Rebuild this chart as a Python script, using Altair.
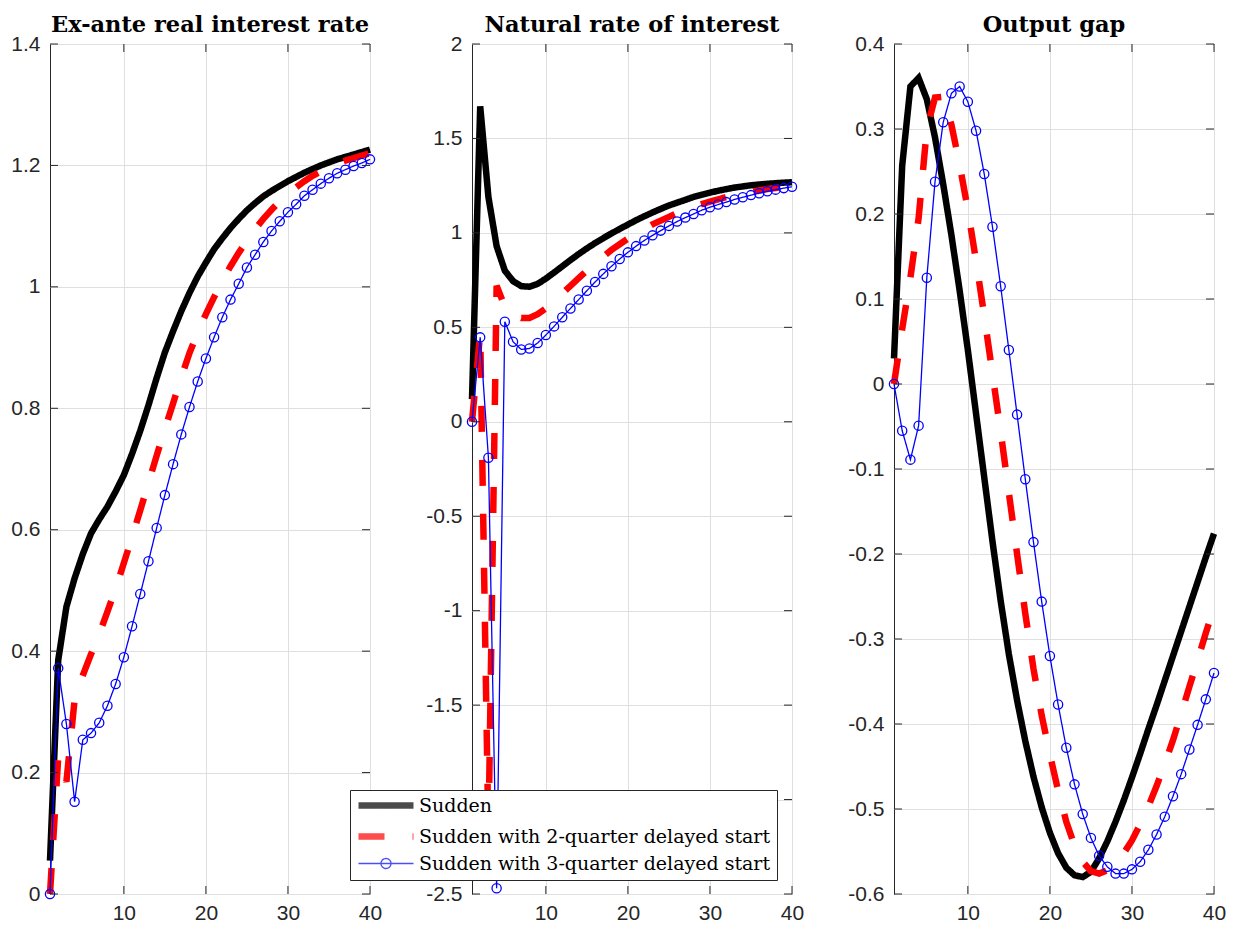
import altair as alt
import pandas as pd

# ---------------- data ----------------
x_vals = list(range(1, 41))
series_names = ["Sudden", "Sudden with 2-quarter delayed start", "Sudden with 3-quarter delayed start"]
series_colors = ["#000000", "#ff0000", "#0000ff"]
panel_titles = ["Ex-ante real interest rate", "Natural rate of interest", "Output gap"]

# Ex-ante real interest rate
rr_sudden = [0.055, 0.385, 0.473, 0.52, 0.56, 0.594, 0.617, 0.638, 0.663, 0.69,
             0.725, 0.763, 0.805, 0.85, 0.892, 0.927, 0.96, 0.99, 1.017, 1.04,
             1.062, 1.08, 1.097, 1.112, 1.126, 1.138, 1.149, 1.158, 1.166, 1.174,
             1.181, 1.188, 1.194, 1.2, 1.205, 1.21, 1.214, 1.218, 1.222, 1.226]
rr_delay2 = [0.0, 0.225, 0.185, 0.32, 0.36, 0.395, 0.428, 0.465, 0.503, 0.545,
             0.588, 0.632, 0.677, 0.722, 0.766, 0.808, 0.851, 0.891, 0.925, 0.955,
             0.983, 1.01, 1.034, 1.056, 1.076, 1.095, 1.112, 1.127, 1.141, 1.153,
             1.164, 1.174, 1.183, 1.19, 1.197, 1.203, 1.208, 1.212, 1.216, 1.22]
rr_delay3 = [0.0, 0.372, 0.28, 0.152, 0.254, 0.265, 0.282, 0.31, 0.346, 0.39,
             0.441, 0.494, 0.548, 0.603, 0.657, 0.708, 0.757, 0.802, 0.844, 0.882,
             0.917, 0.95, 0.979, 1.005, 1.032, 1.053, 1.074, 1.092, 1.108, 1.123,
             1.136, 1.15, 1.16, 1.17, 1.179, 1.187, 1.193, 1.199, 1.204, 1.21]

# Natural rate of interest
nr_sudden = [0.12, 1.67, 1.19, 0.93, 0.8, 0.745, 0.718, 0.715, 0.73, 0.758,
             0.79, 0.823, 0.856, 0.888, 0.918, 0.946, 0.972, 0.997, 1.021, 1.044,
             1.067, 1.088, 1.108, 1.127, 1.145, 1.16, 1.175, 1.19, 1.202, 1.213,
             1.223, 1.232, 1.24, 1.246, 1.252, 1.256, 1.26, 1.263, 1.266, 1.268]
nr_delay2 = [0.0, 0.47, -2.2, 0.72, 0.61, 0.565, 0.55, 0.55, 0.57, 0.6,
             0.64, 0.68, 0.72, 0.76, 0.8, 0.84, 0.875, 0.91, 0.94, 0.97,
             0.995, 1.02, 1.045, 1.065, 1.085, 1.105, 1.122, 1.138, 1.152, 1.165,
             1.177, 1.19, 1.2, 1.21, 1.218, 1.225, 1.232, 1.238, 1.243, 1.248]
nr_delay3 = [0.0, 0.447, -0.19, -2.47, 0.53, 0.424, 0.383, 0.388, 0.417, 0.459,
             0.505, 0.553, 0.6, 0.647, 0.694, 0.74, 0.783, 0.823, 0.862, 0.897,
             0.93, 0.96, 0.987, 1.012, 1.037, 1.06, 1.081, 1.1, 1.12, 1.136,
             1.15, 1.163, 1.177, 1.189, 1.2, 1.21, 1.22, 1.229, 1.237, 1.244]

# Output gap
og_sudden = [0.03, 0.257, 0.35, 0.36, 0.335, 0.29, 0.235, 0.175, 0.11, 0.04,
             -0.035, -0.11, -0.185, -0.255, -0.318, -0.372, -0.42, -0.462, -0.498, -0.528,
             -0.552, -0.569, -0.578, -0.58, -0.574, -0.558, -0.538, -0.515, -0.49, -0.463,
             -0.435, -0.406, -0.378, -0.349, -0.32, -0.291, -0.262, -0.233, -0.204, -0.176]
og_delay2 = [0.0, 0.065, 0.125, 0.195, 0.3, 0.337, 0.338, 0.305, 0.258, 0.205,
             0.145, 0.08, 0.012, -0.056, -0.128, -0.2, -0.27, -0.335, -0.39, -0.436,
             -0.478, -0.515, -0.543, -0.562, -0.573, -0.576, -0.572, -0.564, -0.552, -0.537,
             -0.518, -0.497, -0.473, -0.447, -0.419, -0.388, -0.356, -0.325, -0.293, -0.263]
og_delay3 = [0.0, -0.055, -0.089, -0.049, 0.125, 0.238, 0.308, 0.342, 0.35, 0.332,
             0.298, 0.247, 0.185, 0.115, 0.04, -0.036, -0.112, -0.186, -0.256, -0.32,
             -0.377, -0.428, -0.471, -0.506, -0.534, -0.555, -0.568, -0.576, -0.576, -0.571,
             -0.562, -0.548, -0.53, -0.509, -0.485, -0.459, -0.43, -0.401, -0.371, -0.34]

panel_series = [
    [rr_sudden, rr_delay2, rr_delay3],
    [nr_sudden, nr_delay2, nr_delay3],
    [og_sudden, og_delay2, og_delay3],
]
y_domains = [[0, 1.4], [-2.5, 2], [-0.6, 0.4]]
y_ticks = [
    [0, 0.2, 0.4, 0.6, 0.8, 1, 1.2, 1.4],
    [-2.5, -2, -1.5, -1, -0.5, 0, 0.5, 1, 1.5, 2],
    [-0.6, -0.5, -0.4, -0.3, -0.2, -0.1, 0, 0.1, 0.2, 0.3, 0.4],
]
x_ticks = [10, 20, 30, 40]
x_domain = [1, 40]

# ---------------- styling ----------------
W, H = 320, 850
TICK = 8
AX = "#262626"
LINE_W = 6.5
THIN_W = 1.3
DASH = [26, 28]

line_path = "M-1.4,0H9.6"
circ_path = "M-1.4,0H9.6M5.1,0A1,1 0 1,1 3.1,0A1,1 0 1,1 5.1,0"

legend = alt.Legend(
    title=None,
    orient="none",
    legendX=300,
    legendY=746,
    labelLimit=600,
    symbolSize=100,
)

color_scale = alt.Scale(domain=series_names, range=series_colors)
dash_scale = alt.Scale(domain=series_names, range=[[1, 0], DASH, [1, 0]])
width_scale = alt.Scale(type="ordinal", domain=series_names, range=[LINE_W, LINE_W, THIN_W])
shape_scale = alt.Scale(domain=series_names, range=[line_path, line_path, circ_path])


def make_panel(i):
    rows = []
    for name, vals in zip(series_names, panel_series[i]):
        for xv, yv in zip(x_vals, vals):
            rows.append({"t": xv, "v": yv, "series": name})
    df = pd.DataFrame(rows)

    xs = alt.Scale(domain=x_domain, nice=False, zero=False)
    ys = alt.Scale(domain=y_domains[i], nice=False, zero=False)
    xax = alt.Axis(values=x_ticks, grid=True, ticks=False, tickSize=0, domain=False,
                   labelExpr="'' + datum.value", labelFlush=False, labelPadding=8)
    yax = alt.Axis(values=y_ticks[i], grid=True, ticks=False, tickSize=0, domain=False,
                   labelExpr="'' + datum.value", labelFlush=False, labelPadding=10)

    X = lambda f: alt.X(f, scale=xs, axis=xax, title=None)
    Y = lambda f: alt.Y(f, scale=ys, axis=yax, title=None)

    lines = alt.Chart(df).mark_line().encode(
        x=X("t:Q"),
        y=Y("v:Q"),
        color=alt.Color("series:N", scale=color_scale, legend=legend),
        strokeDash=alt.StrokeDash("series:N", scale=dash_scale, legend=legend),
        strokeWidth=alt.StrokeWidth("series:N", scale=width_scale, legend=legend),
    )
    # empty layer only contributing the legend symbol shapes
    legend_shapes = alt.Chart(df).transform_filter("false").mark_point(filled=False).encode(
        x=X("t:Q"),
        y=Y("v:Q"),
        color=alt.Color("series:N", scale=color_scale, legend=legend),
        shape=alt.Shape("series:N", scale=shape_scale, legend=legend),
    )
    p_blue = alt.Chart(df).transform_filter(alt.datum.series == series_names[2]).mark_point(
        shape="circle", filled=False, size=85, strokeWidth=THIN_W, color="#0000ff", opacity=1
    ).encode(x=X("t:Q"), y=Y("v:Q"))

    xt = pd.DataFrame({"xt": x_ticks})
    yt = pd.DataFrame({"yt": y_ticks[i]})
    tick_x_bot = alt.Chart(xt).mark_rule(color=AX, strokeWidth=1).encode(
        x=X("xt:Q"), y=alt.value(H), y2=alt.value(H - TICK))
    tick_x_top = alt.Chart(xt).mark_rule(color=AX, strokeWidth=1).encode(
        x=X("xt:Q"), y=alt.value(0), y2=alt.value(TICK))
    tick_y_left = alt.Chart(yt).mark_rule(color=AX, strokeWidth=1).encode(
        y=Y("yt:Q"), x=alt.value(0), x2=alt.value(TICK))
    tick_y_right = alt.Chart(yt).mark_rule(color=AX, strokeWidth=1).encode(
        y=Y("yt:Q"), x=alt.value(W), x2=alt.value(W - TICK))

    return alt.layer(
        lines, legend_shapes, p_blue,
        tick_x_bot, tick_x_top, tick_y_left, tick_y_right,
    ).properties(width=W, height=H, title=panel_titles[i])


panels = [make_panel(i) for i in range(3)]

chart = alt.hconcat(*panels, spacing=102, bounds="flush").configure(
    padding={"left": 2, "top": 5, "right": 5, "bottom": 5},
).configure_view(
    stroke=AX, strokeWidth=1
).configure_axis(
    labelFont="Liberation Sans", labelFontSize=21, labelColor=AX,
    gridColor="#dfdfdf", gridWidth=1,
).configure_title(
    font="DejaVu Serif", fontWeight="bold", fontSize=22.5, color="#000000",
    anchor="middle", baseline="alphabetic", offset=-3, frame="group",
).configure_legend(
    labelFont="DejaVu Serif", labelFontSize=19, labelColor="#000000",
    strokeColor=AX, fillColor="#ffffff", padding=6, rowPadding=4,
    labelOffset=44, cornerRadius=0,
)

chart.save("out.html", embed_options={"renderer": "svg", "actions": False})
